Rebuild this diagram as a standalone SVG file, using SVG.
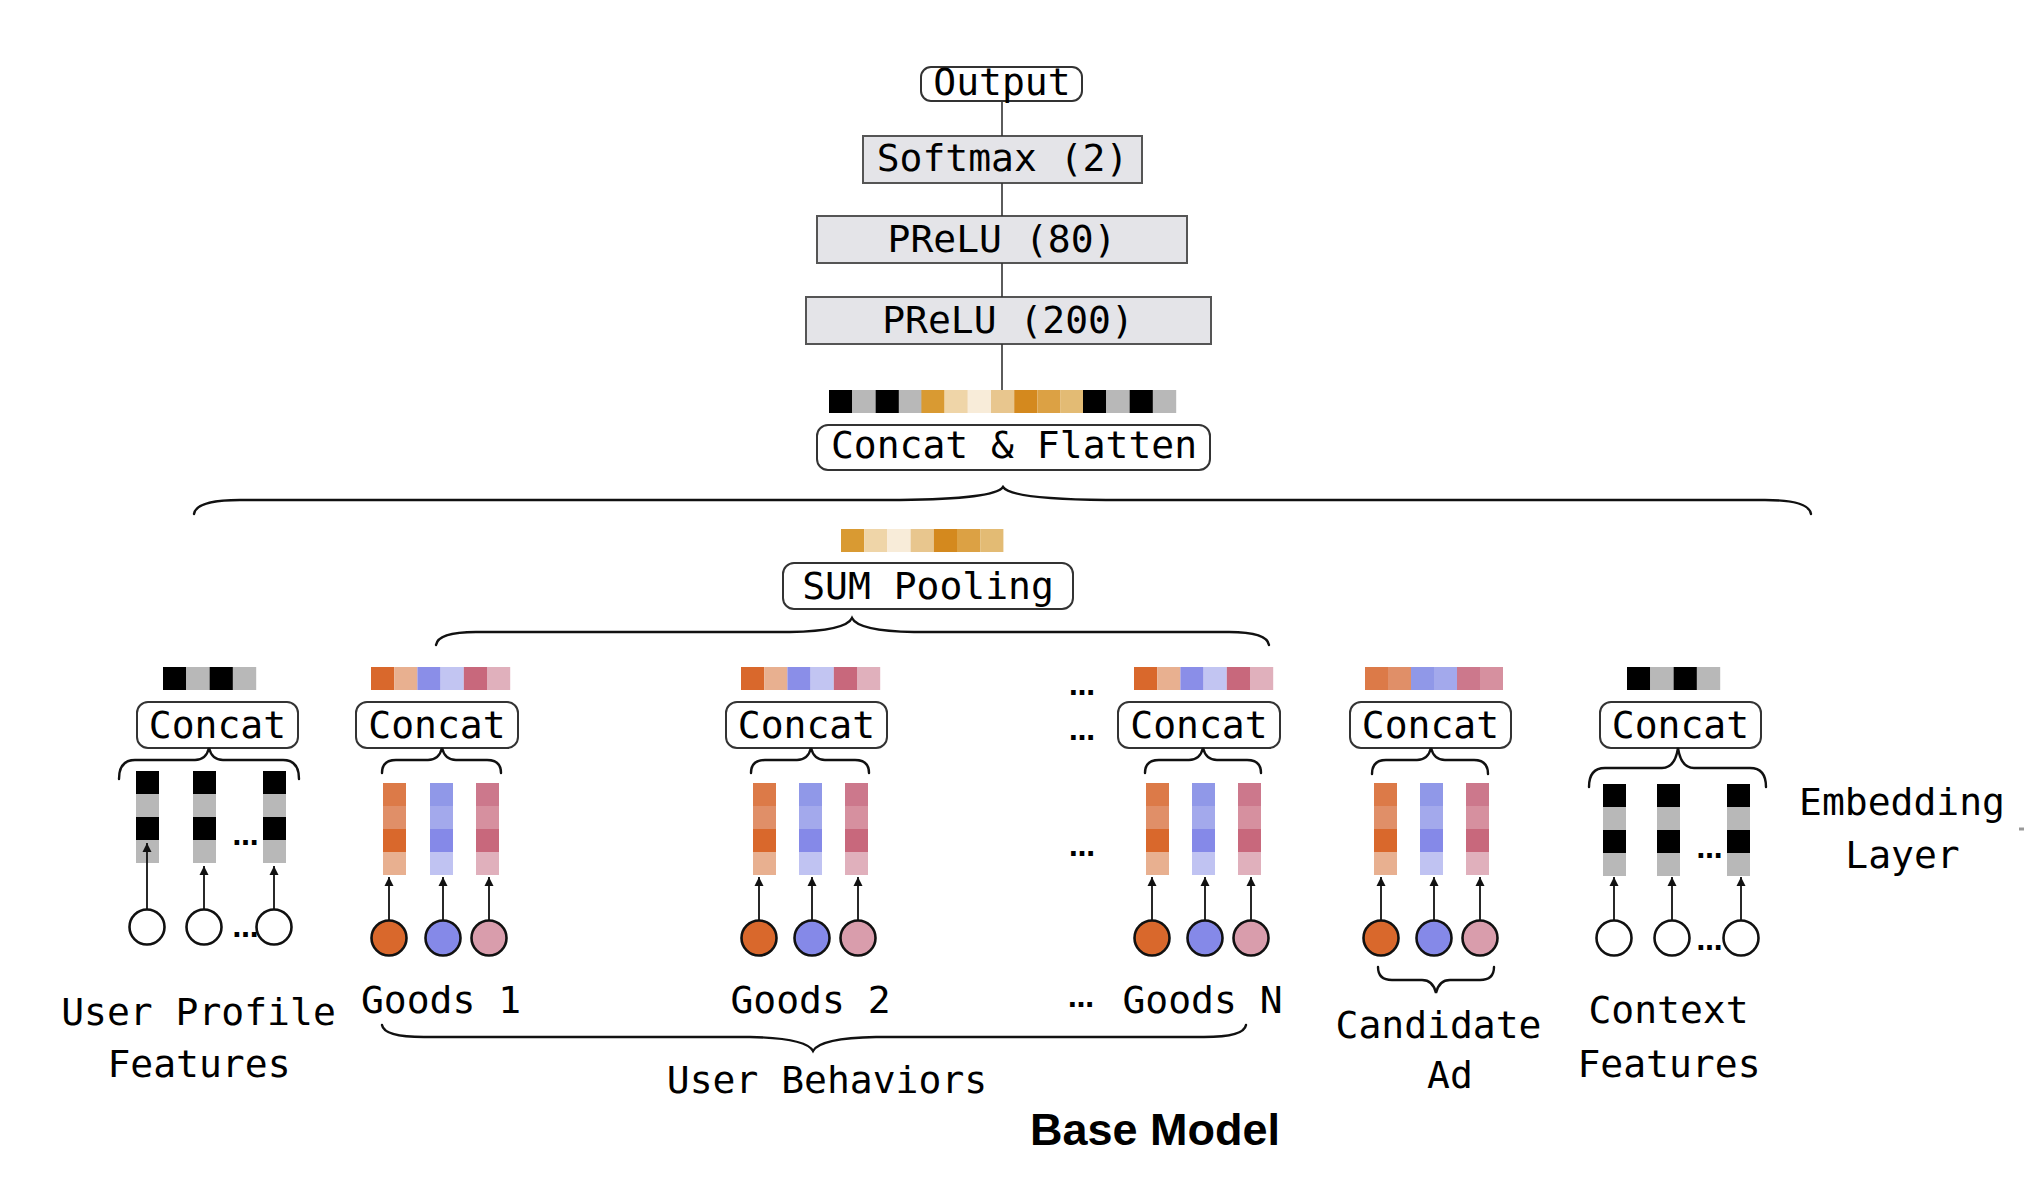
<svg xmlns="http://www.w3.org/2000/svg" xmlns:xlink="http://www.w3.org/1999/xlink" width="2024" height="1198" viewBox="0 0 2024 1198">
<style>
  .t { font-family: "DejaVu Sans Mono", "Liberation Mono", monospace; font-size: 38px; fill: #000; text-anchor: middle; }
  .dots { font-family: "DejaVu Sans", sans-serif; font-weight: bold; font-size: 26px; fill: #000; text-anchor: middle; }
  .layer { fill: #E4E4E8; stroke: #555; stroke-width: 2; }
  .rbox { fill: #fff; stroke: #333; stroke-width: 2; }
  .line { stroke: #333; stroke-width: 1.6; fill: none; }
  .brace { stroke: #111; stroke-width: 2.4; fill: none; stroke-linecap: round; }
  .arrow { stroke: #111; stroke-width: 1.8; fill: none; marker-end: url(#ah); }
  .cw { fill: #fff; stroke: #111; stroke-width: 2.6; }
  .cO { fill: #D9682C; stroke: #111; stroke-width: 2.6; }
  .cB { fill: #8589E8; stroke: #111; stroke-width: 2.6; }
  .cR { fill: #D99DAC; stroke: #111; stroke-width: 2.6; }
</style>
<defs>
  <marker id="ah" viewBox="0 0 10 10" refX="10" refY="5" markerWidth="9" markerHeight="10" markerUnits="userSpaceOnUse" orient="auto">
    <path d="M0,0 L10,5 L0,10 z" fill="#111"/>
  </marker>
  <g id="colK">
    <rect x="0" y="0" width="23" height="23" fill="#000"/>
    <rect x="0" y="23" width="23" height="23" fill="#B8B8B8"/>
    <rect x="0" y="46" width="23" height="23" fill="#000"/>
    <rect x="0" y="69" width="23" height="23" fill="#B8B8B8"/>
  </g>
  <g id="colO">
    <rect x="0" y="0" width="23" height="23" fill="#DC7A48"/>
    <rect x="0" y="23" width="23" height="23" fill="#E08F68"/>
    <rect x="0" y="46" width="23" height="23" fill="#D9682C"/>
    <rect x="0" y="69" width="23" height="23" fill="#E8B090"/>
  </g>
  <g id="colB">
    <rect x="0" y="0" width="23" height="23" fill="#9098E8"/>
    <rect x="0" y="23" width="23" height="23" fill="#A3A9EC"/>
    <rect x="0" y="46" width="23" height="23" fill="#8589E8"/>
    <rect x="0" y="69" width="23" height="23" fill="#C0C3F2"/>
  </g>
  <g id="colR">
    <rect x="0" y="0" width="23" height="23" fill="#CC788C"/>
    <rect x="0" y="23" width="23" height="23" fill="#D6909F"/>
    <rect x="0" y="46" width="23" height="23" fill="#C8687C"/>
    <rect x="0" y="69" width="23" height="23" fill="#E0B0BC"/>
  </g>
  <g id="barK">
    <rect x="0" y="0" width="23.3" height="23" fill="#000"/>
    <rect x="23.3" y="0" width="23.3" height="23" fill="#B8B8B8"/>
    <rect x="46.6" y="0" width="23.3" height="23" fill="#000"/>
    <rect x="69.9" y="0" width="23.3" height="23" fill="#B8B8B8"/>
  </g>
  <g id="barG">
    <rect x="0" y="0" width="23.2" height="23" fill="#D9682C"/>
    <rect x="23.2" y="0" width="23.2" height="23" fill="#E8B090"/>
    <rect x="46.4" y="0" width="23.2" height="23" fill="#8A8EE8"/>
    <rect x="69.6" y="0" width="23.2" height="23" fill="#C2C5F2"/>
    <rect x="92.8" y="0" width="23.2" height="23" fill="#C8687C"/>
    <rect x="116" y="0" width="23.2" height="23" fill="#E0B0BC"/>
  </g>
  <g id="barC">
    <rect x="0" y="0" width="23" height="23" fill="#DC7A48"/>
    <rect x="23" y="0" width="23" height="23" fill="#E08F68"/>
    <rect x="46" y="0" width="23" height="23" fill="#9098E8"/>
    <rect x="69" y="0" width="23" height="23" fill="#A3A9EC"/>
    <rect x="92" y="0" width="23" height="23" fill="#CC788C"/>
    <rect x="115" y="0" width="23" height="23" fill="#D6909F"/>
  </g>
  <g id="barS">
    <rect x="0" y="0" width="23.2" height="23" fill="#D99A32"/>
    <rect x="23.2" y="0" width="23.2" height="23" fill="#EFD5A8"/>
    <rect x="46.4" y="0" width="23.2" height="23" fill="#F8ECD9"/>
    <rect x="69.6" y="0" width="23.2" height="23" fill="#E8C68E"/>
    <rect x="92.8" y="0" width="23.2" height="23" fill="#D4891E"/>
    <rect x="116" y="0" width="23.2" height="23" fill="#DCA144"/>
    <rect x="139.2" y="0" width="23.2" height="23" fill="#E3BB74"/>
  </g>
</defs>
<rect width="2024" height="1198" fill="#fff"/>

<g id="output">
  <rect class="rbox" x="921" y="67" width="161" height="34" rx="10"/>
  <text class="t" x="1002" y="95">Output</text>
</g>
<g id="softmax">
  <rect class="layer" x="863" y="136" width="279" height="47"/>
  <text class="t" x="1002.5" y="171">Softmax (2)</text>
</g>
<g id="prelu80">
  <rect class="layer" x="817" y="216" width="370" height="47"/>
  <text class="t" x="1002" y="252">PReLU (80)</text>
</g>
<g id="prelu200">
  <rect class="layer" x="806" y="297" width="405" height="47"/>
  <text class="t" x="1008" y="333">PReLU (200)</text>
</g>
<g id="concat-flatten">
  <use xlink:href="#barK" x="829" y="390"/>
  <use xlink:href="#barS" x="921.4" y="390"/>
  <use xlink:href="#barK" x="1083" y="390"/>
  <rect class="rbox" x="817" y="425" width="393" height="45" rx="11"/>
  <text class="t" x="1014" y="458">Concat &amp; Flatten</text>
</g>
<g id="sum-pooling">
  <use xlink:href="#barS" x="841" y="529"/>
  <rect class="rbox" x="783" y="563" width="290" height="46" rx="11"/>
  <text class="t" x="928" y="599">SUM Pooling</text>
</g>

<g id="user-profile">
  <use xlink:href="#barK" x="163" y="667"/>
  <rect class="rbox" x="137" y="702" width="161" height="46" rx="11"/>
  <text class="t" x="217.5" y="738">Concat</text>
  <use xlink:href="#colK" x="136" y="771"/>
  <use xlink:href="#colK" x="193" y="771"/>
  <use xlink:href="#colK" x="263" y="771"/>
  <text class="dots" x="245.5" y="845">…</text>
  <circle class="cw" cx="147" cy="927" r="17.5"/>
  <circle class="cw" cx="204" cy="927" r="17.5"/>
  <circle class="cw" cx="274" cy="927" r="17.5"/>
  <text class="dots" x="245.5" y="937">…</text>
  <text class="t" x="198.5" y="1025">User Profile</text>
  <text class="t" x="199" y="1077">Features</text>
</g>

<g id="goods1">
  <use xlink:href="#barG" x="371" y="667"/>
  <rect class="rbox" x="356" y="702" width="162" height="46" rx="11"/>
  <text class="t" x="437" y="738">Concat</text>
  <use xlink:href="#colO" x="383" y="783"/>
  <use xlink:href="#colB" x="430" y="783"/>
  <use xlink:href="#colR" x="476" y="783"/>
  <circle class="cO" cx="389" cy="938" r="17.5"/>
  <circle class="cB" cx="443" cy="938" r="17.5"/>
  <circle class="cR" cx="489" cy="938" r="17.5"/>
  <text class="t" x="441" y="1013">Goods 1</text>
</g>

<g id="goods2">
  <use xlink:href="#barG" x="741" y="667"/>
  <rect class="rbox" x="726" y="702" width="161" height="46" rx="11"/>
  <text class="t" x="806.5" y="738">Concat</text>
  <use xlink:href="#colO" x="753" y="783"/>
  <use xlink:href="#colB" x="799" y="783"/>
  <use xlink:href="#colR" x="845" y="783"/>
  <circle class="cO" cx="759" cy="938" r="17.5"/>
  <circle class="cB" cx="812" cy="938" r="17.5"/>
  <circle class="cR" cx="858" cy="938" r="17.5"/>
  <text class="t" x="810.5" y="1013">Goods 2</text>
</g>

<g id="ellipsis-behaviors">
  <text class="dots" x="1082" y="695">…</text>
  <text class="dots" x="1082" y="740">…</text>
  <text class="dots" x="1082" y="856">…</text>
  <text class="dots" x="1081" y="1007">…</text>
</g>

<g id="goodsN">
  <use xlink:href="#barG" x="1134" y="667"/>
  <rect class="rbox" x="1118" y="702" width="162" height="46" rx="11"/>
  <text class="t" x="1199" y="738">Concat</text>
  <use xlink:href="#colO" x="1146" y="783"/>
  <use xlink:href="#colB" x="1192" y="783"/>
  <use xlink:href="#colR" x="1238" y="783"/>
  <circle class="cO" cx="1152" cy="938" r="17.5"/>
  <circle class="cB" cx="1205" cy="938" r="17.5"/>
  <circle class="cR" cx="1251" cy="938" r="17.5"/>
  <text class="t" x="1202.5" y="1013">Goods N</text>
</g>

<g id="candidate-ad">
  <use xlink:href="#barC" x="1365" y="667"/>
  <rect class="rbox" x="1350" y="702" width="161" height="46" rx="11"/>
  <text class="t" x="1430.5" y="738">Concat</text>
  <use xlink:href="#colO" x="1374" y="783"/>
  <use xlink:href="#colB" x="1420" y="783"/>
  <use xlink:href="#colR" x="1466" y="783"/>
  <circle class="cO" cx="1381" cy="938" r="17.5"/>
  <circle class="cB" cx="1434" cy="938" r="17.5"/>
  <circle class="cR" cx="1480" cy="938" r="17.5"/>
  <text class="t" x="1438.5" y="1038">Candidate</text>
  <text class="t" x="1450" y="1088">Ad</text>
</g>

<g id="context">
  <use xlink:href="#barK" x="1627" y="667"/>
  <rect class="rbox" x="1600" y="702" width="161" height="46" rx="11"/>
  <text class="t" x="1680.5" y="738">Concat</text>
  <use xlink:href="#colK" x="1603" y="784"/>
  <use xlink:href="#colK" x="1657" y="784"/>
  <use xlink:href="#colK" x="1727" y="784"/>
  <text class="dots" x="1709.5" y="858">…</text>
  <circle class="cw" cx="1614" cy="938" r="17.5"/>
  <circle class="cw" cx="1672" cy="938" r="17.5"/>
  <circle class="cw" cx="1741" cy="938" r="17.5"/>
  <text class="dots" x="1709.5" y="950">…</text>
  <text class="t" x="1668.5" y="1023">Context</text>
  <text class="t" x="1669" y="1077">Features</text>
</g>

<g id="embedding-label">
  <text class="t" x="1902" y="815">Embedding</text>
  <text class="t" x="1902.5" y="868">Layer</text>
</g>

<g id="labels">
  <text class="t" x="827" y="1093">User Behaviors</text>
  <text x="1030" y="1145" font-family="'Liberation Sans', Arial, sans-serif" font-weight="bold" font-size="45" fill="#000">Base Model</text>
</g>

<g id="connectors">
  <line class="line" x1="1002" y1="101" x2="1002" y2="136"/>
  <line class="line" x1="1002" y1="183" x2="1002" y2="216"/>
  <line class="line" x1="1002" y1="263" x2="1002" y2="297"/>
  <line class="line" x1="1002" y1="344" x2="1002" y2="390"/>

  <path class="brace" d="M194,514 Q196,500 240,500 L900,500 Q995,499 1003,487 Q1011,499 1106,500 L1765,500 Q1809,500 1811,514"/>
  <path class="brace" d="M436,645 Q438,632 476,632 L790,632 Q846,631 852,618 Q858,631 914,632 L1229,632 Q1267,632 1269,645"/>

  <path class="brace" d="M119,779 Q119,760 135,760 L195,760 Q206,760 209,748 Q212,760 223,760 L283,760 Q299,760 299,779"/>
  <path class="brace" d="M382,773 Q382,760 396,760 L428,760 Q439,760 442,748 Q445,760 456,760 L487,760 Q501,760 501,773"/>
  <path class="brace" d="M751,773 Q751,760 765,760 L797,760 Q808,760 811,748 Q814,760 825,760 L855,760 Q869,760 869,773"/>
  <path class="brace" d="M1145,773 Q1145,760 1159,760 L1189,760 Q1200,760 1203,748 Q1206,760 1217,760 L1247,760 Q1261,760 1261,773"/>
  <path class="brace" d="M1372,774 Q1372,760 1386,760 L1417,760 Q1428,760 1431,748 Q1434,760 1445,760 L1474,760 Q1488,760 1488,774"/>
  <path class="brace" d="M1589,787 Q1589,768 1605,768 L1662,768 Q1675,768 1678,748 Q1681,768 1694,768 L1750,768 Q1766,768 1766,787"/>

  <path class="brace" d="M1378,967 Q1378,980 1392,980 L1422,980 Q1433,980 1436,993 Q1439,980 1450,980 L1480,980 Q1494,980 1494,967"/>
  <path class="brace" d="M382,1025 Q384,1037 424,1037 L750,1037 Q806,1038 813,1051 Q820,1038 876,1037 L1204,1037 Q1244,1037 1246,1025"/>

  <line class="arrow" x1="147" y1="909" x2="147" y2="843"/>
  <line class="arrow" x1="204" y1="909" x2="204" y2="866"/>
  <line class="arrow" x1="274" y1="909" x2="274" y2="866"/>

  <line class="arrow" x1="389" y1="920" x2="389" y2="877"/>
  <line class="arrow" x1="443" y1="920" x2="443" y2="877"/>
  <line class="arrow" x1="489" y1="920" x2="489" y2="877"/>

  <line class="arrow" x1="759" y1="920" x2="759" y2="877"/>
  <line class="arrow" x1="812" y1="920" x2="812" y2="877"/>
  <line class="arrow" x1="858" y1="920" x2="858" y2="877"/>

  <line class="arrow" x1="1152" y1="920" x2="1152" y2="877"/>
  <line class="arrow" x1="1205" y1="920" x2="1205" y2="877"/>
  <line class="arrow" x1="1251" y1="920" x2="1251" y2="877"/>

  <line class="arrow" x1="1381" y1="920" x2="1381" y2="877"/>
  <line class="arrow" x1="1434" y1="920" x2="1434" y2="877"/>
  <line class="arrow" x1="1480" y1="920" x2="1480" y2="877"/>

  <line class="arrow" x1="1614" y1="920" x2="1614" y2="877"/>
  <line class="arrow" x1="1672" y1="920" x2="1672" y2="877"/>
  <line class="arrow" x1="1741" y1="920" x2="1741" y2="877"/>

  <line x1="2019" y1="829" x2="2024" y2="829" stroke="#999" stroke-width="3"/>
</g>
</svg>
